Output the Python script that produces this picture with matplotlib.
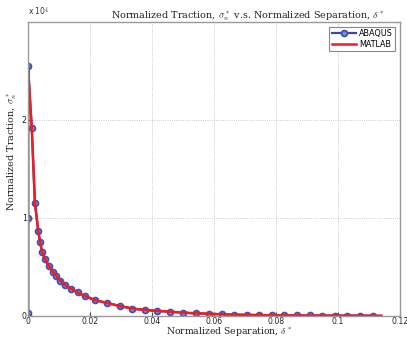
import matplotlib
matplotlib.use("Agg")
import matplotlib.pyplot as plt

# ABAQUS result (traction in units of 1e4)
abaqus_x = [0, 0, 0, 0, 0.0012, 0.0022, 0.0033, 0.0038, 0.0045, 0.0055, 0.0069,
            0.0080, 0.0091, 0.0103, 0.0120, 0.0139, 0.0160, 0.0182, 0.0215, 0.0255,
            0.0296, 0.0336, 0.0377, 0.0417, 0.0458, 0.0500, 0.0541, 0.0582, 0.0624,
            0.0663, 0.0705, 0.0746, 0.0787, 0.0827, 0.0867, 0.0908, 0.0949, 0.0989,
            0.1030, 0.1071, 0.1112]
abaqus_y = [0, 0.03, 1.0, 2.55, 1.92, 1.156, 0.86, 0.755, 0.653, 0.58, 0.503,
            0.449, 0.401, 0.357, 0.31, 0.272, 0.238, 0.201, 0.160, 0.130,
            0.099, 0.071, 0.058, 0.048, 0.041, 0.031, 0.023, 0.020, 0.013,
            0.010, 0.008, 0.006, 0.004, 0.003, 0.002, 0.002, 0.001, 0.001,
            0.001, 0.0005, 0.0005]

# MATLAB curve
matlab_x = [0, 0, 0.0005, 0.0012, 0.0022, 0.0033, 0.0045, 0.0060, 0.0080, 0.0100,
            0.0125, 0.0150, 0.0180, 0.0215, 0.0255, 0.030, 0.035, 0.040, 0.046,
            0.052, 0.058, 0.065, 0.072, 0.080, 0.090, 0.100, 0.114]
matlab_y = [0, 2.55, 2.25, 1.90, 1.15, 0.86, 0.655, 0.54, 0.45, 0.37,
            0.30, 0.255, 0.205, 0.16, 0.13, 0.095, 0.068, 0.053, 0.040,
            0.028, 0.020, 0.012, 0.008, 0.004, 0.002, 0.001, 0.0]

x_ticks = [0, 0.02, 0.04, 0.06, 0.08, 0.1, 0.12]
x_labels = ['0', '0.02', '0.04', '0.06', '0.08', '0.1', '0.12']
y_ticks = [0, 1, 2]
y_labels = ['0', '1', '2']

plt.rcParams['mathtext.fontset'] = 'cm'
plt.rcParams['font.family'] = 'DejaVu Sans'

fig = plt.figure(figsize=(4.07, 3.38), dpi=100)
ax = fig.add_axes([0.069, 0.066, 0.914, 0.869])

ax.plot(abaqus_x, abaqus_y, '-o', color='#3548a8', lw=1.6, ms=4.2,
        mfc='#7f8fd8', mec='#3f52b0', mew=1.3, label='ABAQUS')
ax.plot(matlab_x, matlab_y, '-', color='#ee1c24', lw=1.8, label='MATLAB')

ax.set_xlim(0, 0.12)
ax.set_ylim(0, 3)
ax.set_xticks(x_ticks)
ax.set_xticklabels(x_labels)
ax.set_yticks(y_ticks)
ax.set_yticklabels(y_labels)
ax.tick_params(direction='in', labelsize=5.6, length=3, pad=1.0, colors='#444444',
               labelcolor='#222222')
ax.grid(True, linestyle=':', color='#bbbbbb', lw=0.6)
for s in ax.spines.values():
    s.set_color('#999999')
    s.set_linewidth(1.0)

ax.text(0.0, 1.012, 'x 10$^4$', transform=ax.transAxes, fontsize=5.5,
        ha='left', va='bottom', color='#333333')

fig.text(0.607, 0.953, r'Normalized Traction, $\sigma_n^*$ v.s. Normalized Separation, $\delta^*$',
         ha='center', va='center', family='serif', fontsize=6.9, color='#222222')
ax.set_xlabel(r'Normalized Separation, $\delta^*$', family='serif', fontsize=6.7,
              color='#222222', va='center')
ax.xaxis.set_label_coords(0.54, -0.056)
ax.set_ylabel(r'Normalized Traction, $\sigma_n^*$', family='serif', fontsize=6.9,
              color='#222222', va='center')
ax.yaxis.set_label_coords(-0.043, 0.56)

leg = ax.legend(loc='upper right', fontsize=5.8, fancybox=False, framealpha=1,
                edgecolor='#888888', handlelength=3.0, borderpad=0.3,
                labelspacing=0.2, handletextpad=0.4, borderaxespad=0.6)
leg.get_frame().set_linewidth(0.8)

fig.savefig('out.png', dpi=100)
